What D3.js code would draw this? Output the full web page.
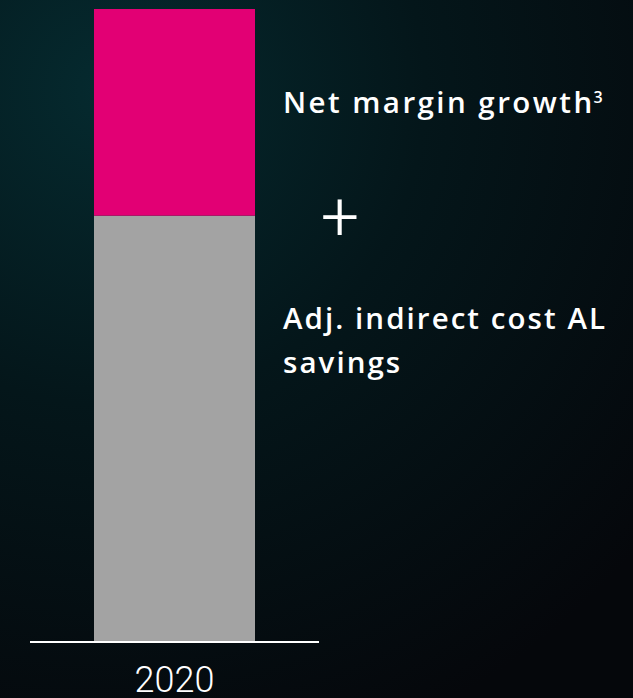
<!DOCTYPE html>
<html>
<head>
<meta charset="utf-8">
<script src="https://cdn.jsdelivr.net/npm/d3@7"></script>
<style>
  html, body { margin: 0; padding: 0; background: #05080c; }
  svg { display: block; }
</style>
</head>
<body>
<div id="chart"></div>
<script>
// Data
const years = ['2020'];
const indirectCost = [67.3];   // grey, bottom segment
const netMargin = [32.7];      // magenta, top segment
const seriesNames = ['Adj. indirect cost AL savings', 'Net margin growth'];

const width = 633;
const height = 698;

const svg = d3.select('#chart')
    .append('svg')
    .attr('width', width)
    .attr('height', height);

// Background gradient
const defs = svg.append('defs');
const grad = defs.append('radialGradient')
    .attr('id', 'bg')
    .attr('gradientUnits', 'userSpaceOnUse')
    .attr('cx', 110).attr('cy', 90).attr('r', 700);
grad.append('stop').attr('offset', '0%').attr('stop-color', '#052a2f');
grad.append('stop').attr('offset', '45%').attr('stop-color', '#04161a');
grad.append('stop').attr('offset', '100%').attr('stop-color', '#05070b');

svg.append('rect')
    .attr('width', width)
    .attr('height', height)
    .attr('fill', 'url(#bg)');

// Scales
const x = d3.scaleBand()
    .domain(years)
    .range([30, 319])
    .paddingInner(0)
    .paddingOuter(0.3975);

const y = d3.scaleLinear()
    .domain([0, 100])
    .range([641, 9]);

// Stack the two series
const table = years.map((yr, i) => ({ year: yr, cost: indirectCost[i], margin: netMargin[i] }));
const stack = d3.stack().keys(['cost', 'margin']);
const colors = { cost: '#a3a3a3', margin: '#e20074' };

svg.selectAll('g.layer')
    .data(stack(table))
    .enter()
    .append('g')
    .attr('class', 'layer')
    .attr('fill', d => colors[d.key])
    .selectAll('rect')
    .data(d => d)
    .enter()
    .append('rect')
    .attr('x', d => x(d.data.year))
    .attr('width', x.bandwidth())
    .attr('y', d => y(d[1]))
    .attr('height', d => y(d[0]) - y(d[1]));

// Baseline axis
const xAxis = svg.append('g')
    .attr('transform', `translate(0,${y(0)})`)
    .call(d3.axisBottom(x).tickSize(0));

xAxis.select('.domain')
    .attr('d', `M30,1H319`)
    .attr('stroke', '#ffffff')
    .attr('stroke-width', 2);

xAxis.selectAll('text')
    .attr('fill', '#ffffff')
    .attr('font-family', 'Roboto, sans-serif')
    .attr('font-weight', 300)
    .attr('font-size', '36px')
    .attr('dy', null)
    .attr('y', 51);

// Legend labels to the right
const labelFont = '"Open Sans", sans-serif';

const t1 = svg.append('text')
    .attr('x', 283)
    .attr('y', 113)
    .attr('fill', '#ffffff')
    .attr('font-family', labelFont)
    .attr('font-weight', 600)
    .attr('font-size', '29.5px')
    .attr('letter-spacing', '2.45px')
    .text(seriesNames[1]);
t1.append('tspan')
    .attr('font-size', '16px')
    .attr('letter-spacing', '0px')
    .attr('dx', -1)
    .attr('dy', '-10')
    .text('3');

svg.append('text')
    .attr('x', 340)
    .attr('y', 240)
    .attr('text-anchor', 'middle')
    .attr('fill', '#ffffff')
    .attr('font-family', 'Roboto, sans-serif')
    .attr('font-weight', 300)
    .attr('font-size', '68px')
    .text('+');

const t2 = svg.append('text')
    .attr('x', 283)
    .attr('y', 329)
    .attr('fill', '#ffffff')
    .attr('font-family', labelFont)
    .attr('font-weight', 600)
    .attr('font-size', '29.5px')
    .attr('letter-spacing', '2.05px');
t2.append('tspan').attr('x', 283).text('Adj. indirect cost AL');
t2.append('tspan').attr('x', 283).attr('dy', 44).text('savings');
</script>
</body>
</html>
